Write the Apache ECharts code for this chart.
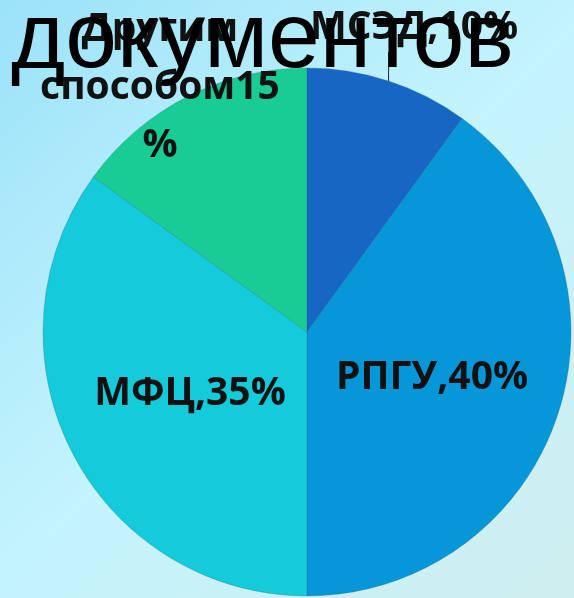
<!DOCTYPE html>
<html>
<head>
<meta charset="utf-8">
<script src="https://cdn.jsdelivr.net/npm/echarts@6/dist/echarts.min.js"></script>
<style>html,body{margin:0;padding:0;}#c{width:574px;height:598px;}</style>
</head>
<body>
<div id="c"></div>
<script>
var titleText = 'документов';
var categories = ['МСЭД', 'РПГУ', 'МФЦ', 'Другим способом'];
var values = [10, 40, 35, 15];
var colors = ['#1667c4', '#0597d7', '#13cbdb', '#19cc94'];

var labelPos = [[414, 28], [432, 378], [190, 394], [160, 88]];

var chart = echarts.init(document.getElementById('c'));
chart.setOption({
  backgroundColor: {
    type: 'linear', x: 0, y: 0, x2: 1, y2: 1,
    colorStops: [
      {offset: 0, color: '#9be2f9'},
      {offset: 0.5, color: '#c4f4fd'},
      {offset: 1, color: '#cfeeef'}
    ]
  },
  title: {
    text: titleText,
    left: 6,
    top: -10,
    textStyle: {fontFamily: 'Liberation Sans', fontSize: 93, fontWeight: 'normal', color: '#000'}
  },
  series: [{
    type: 'pie',
    center: [307, 332],
    radius: 264,
    startAngle: 90,
    clockwise: true,
    animation: false,
    itemStyle: {borderColor: 'rgba(40,80,110,0.25)', borderWidth: 1},
    label: {
      show: true,
      position: 'inside',
      overflow: 'none',
      fontFamily: 'Open Sans',
      fontWeight: 'bold',
      fontSize: 39,
      lineHeight: 58,
      color: '#111',
      align: 'center',
      formatter: function (p) {
        if (p.dataIndex === 3) return p.name.replace(' ', '\n') + p.value + '\n%';
        return p.name + ',' + p.value + '%';
      }
    },
    labelLine: {show: false},
    labelLayout: function (p) {
      var pos = labelPos[p.dataIndex];
      var res = {x: pos[0], y: pos[1], align: 'center', verticalAlign: 'middle', hideOverlap: false};
      if (p.dataIndex === 0 && p.labelLinePoints) {
        var s = p.labelLinePoints[0];
        res.labelLinePoints = [[s[0], s[1]], [s[0], pos[1] + 24], [s[0], pos[1] + 24]];
      }
      return res;
    },
    data: categories.map(function (n, i) {
      var d = {name: n, value: values[i], itemStyle: {color: colors[i]}};
      if (i === 0) {
        d.label = {position: 'outside', overflow: 'none'};
        d.labelLine = {show: true, length: 20, length2: 0, lineStyle: {color: '#222', width: 1}};
      }
      return d;
    })
  }]
});
</script>
</body>
</html>
